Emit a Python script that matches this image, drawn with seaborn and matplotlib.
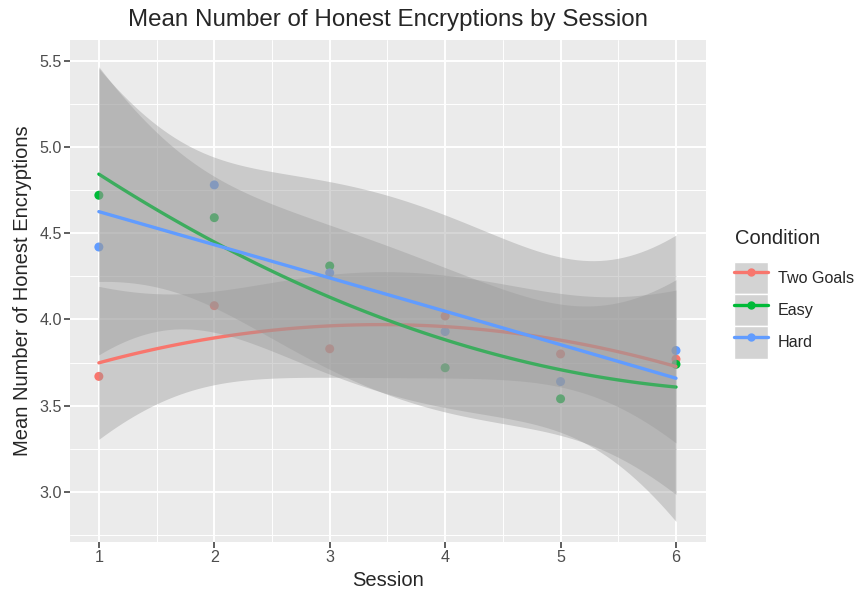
import numpy as np
import pandas as pd
import matplotlib
matplotlib.use("Agg")
import matplotlib.pyplot as plt
from matplotlib.lines import Line2D
from matplotlib.patches import Rectangle
import seaborn as sns

# data
sessions = [1, 2, 3, 4, 5, 6]
conditions = ["Two Goals", "Easy", "Hard"]
two_goals = [3.67, 4.08, 3.83, 4.02, 3.80, 3.77]
easy = [4.72, 4.59, 4.31, 3.72, 3.54, 3.74]
hard = [4.42, 4.78, 4.27, 3.93, 3.64, 3.82]
colors = ["#F8766D", "#00BA38", "#619CFF"]

T975_DF3 = 3.182  # t quantile, 3 residual df


def quad_fit(x, y, grid):
    x = np.asarray(x, float)
    y = np.asarray(y, float)
    X = np.column_stack([np.ones_like(x), x, x ** 2])
    beta, *_ = np.linalg.lstsq(X, y, rcond=None)
    resid = y - X @ beta
    s2 = resid @ resid / (len(x) - 3)
    XtXi = np.linalg.inv(X.T @ X)
    G = np.column_stack([np.ones_like(grid), grid, grid ** 2])
    pred = G @ beta
    se = np.sqrt(s2 * np.einsum("ij,jk,ik->i", G, XtXi, G))
    return pred, pred - T975_DF3 * se, pred + T975_DF3 * se


def main():
    df = pd.DataFrame({
        "Session": sessions * 3,
        "Value": two_goals + easy + hard,
        "Condition": np.repeat(conditions, len(sessions)),
    })

    sns.set_theme(style="darkgrid", rc={
        "axes.facecolor": "#EBEBEB",
        "grid.color": "white",
        "axes.edgecolor": "#EBEBEB",
    })
    plt.rcParams["font.family"] = ["Liberation Sans", "DejaVu Sans"]

    fig = plt.figure(figsize=(8.61, 5.96), dpi=100)
    ax = fig.add_axes([70 / 861, 1 - 542 / 596, 636 / 861, 502 / 596])

    palette = dict(zip(conditions, colors))
    sns.scatterplot(data=df, x="Session", y="Value", hue="Condition",
                    palette=palette, s=42, edgecolor="none", legend=False,
                    ax=ax, zorder=3)

    grid = np.linspace(1, 6, 100)
    z = 4
    for cond, vals in zip(conditions, [two_goals, easy, hard]):
        pred, lo, hi = quad_fit(sessions, vals, grid)
        ax.fill_between(grid, lo, hi, color="#999999", alpha=0.4,
                        linewidth=0, zorder=z)
        fit = pd.DataFrame({"Session": grid, "Value": pred})
        sns.lineplot(data=fit, x="Session", y="Value", color=palette[cond],
                     linewidth=2.4, ax=ax, zorder=z + 1)
        z += 2

    ax.set_xlim(0.75, 6.26)
    ax.set_ylim(2.71, 5.62)
    ax.set_xticks(sessions)
    ax.set_yticks([3.0, 3.5, 4.0, 4.5, 5.0, 5.5])
    ax.set_yticklabels(["3.0", "3.5", "4.0", "4.5", "5.0", "5.5"])
    ax.set_xticks(np.arange(1.5, 6, 1), minor=True)
    ax.set_yticks(np.arange(2.75, 5.6, 0.5), minor=True)
    ax.grid(which="major", color="white", linewidth=1.4)
    ax.grid(which="minor", color="white", linewidth=0.7)
    ax.tick_params(which="major", length=4, width=1.1, color="#333333",
                   labelsize=11.6, labelcolor="#4D4D4D", left=True,
                   bottom=True, pad=2)
    ax.tick_params(which="minor", length=0)
    for s in ax.spines.values():
        s.set_visible(False)

    ax.set_xlabel("Session", fontsize=14.5, labelpad=4)
    ax.set_ylabel("Mean Number of Honest Encryptions", fontsize=14.5,
                  labelpad=5)
    ax.set_title("Mean Number of Honest Encryptions by Session", fontsize=17.4,
                 pad=10)

    # legend: title as its own text, keys below
    fig.text(735 / 861, 1 - 238 / 596, "Condition", fontsize=14.5,
             ha="left", va="center")
    handles = []
    for c in colors:
        bg = Rectangle((0, 0), 1, 1, facecolor="#D3D3D3", edgecolor="white")
        ln = Line2D([], [], color=c, linewidth=2.4, marker="o", markersize=5)
        handles.append((bg, ln))
    fig.legend(handles, conditions, loc="upper left",
               bbox_to_anchor=(734 / 861, 1 - 262 / 596),
               frameon=False, fontsize=11.6,
               handlelength=2.1, handleheight=2.7, labelspacing=0.0,
               handletextpad=0.6, borderaxespad=0, borderpad=0)

    fig.savefig("out.png", dpi=100)


if __name__ == "__main__":
    main()
